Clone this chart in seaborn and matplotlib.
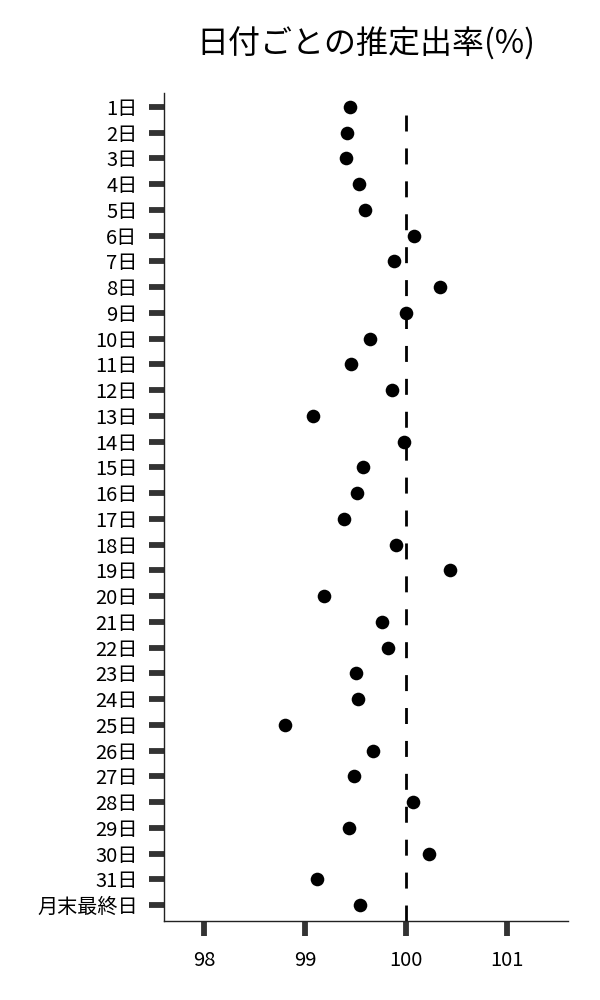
import numpy as np
import pandas as pd
import matplotlib
matplotlib.use('Agg')
import matplotlib.pyplot as plt
import seaborn as sns

sns.set_style('white')
plt.rcParams['font.family'] = ['Noto Sans CJK JP', 'DejaVu Sans']
plt.rcParams['text.color'] = 'black'
plt.rcParams['xtick.color'] = 'black'
plt.rcParams['ytick.color'] = 'black'

days = [f'{i}日' for i in range(1, 32)] + ['月末最終日']
rates = [99.44, 99.41, 99.40, 99.53, 99.59, 100.08, 99.88, 100.33, 100.00, 99.64,
         99.45, 99.86, 99.08, 99.98, 99.57, 99.51, 99.38, 99.90, 100.43, 99.18,
         99.76, 99.82, 99.50, 99.52, 98.80, 99.67, 99.48, 100.07, 99.43, 100.22,
         99.11, 99.54]
xticks = [98, 99, 100, 101]

df = pd.DataFrame({'day': days, 'rate': rates})

fig = plt.figure(figsize=(6, 10), dpi=100)
ax = fig.add_axes([0.2733, 0.079, 0.6734, 0.8283])

sns.stripplot(data=df, x='rate', y='day', order=days, jitter=False,
              color='black', size=9.8, ax=ax)
ax.axvline(100, ymax=0.986, color='black', lw=2, linestyle=(0, (5.75, 6.1)))

ax.set_xlim(97.6, 101.6)
ax.set_ylim(31.62, -0.55)
ax.set_xticks(xticks)
ax.set_xlabel('')
ax.set_ylabel('')
ax.set_title('日付ごとの推定出率(%)', fontsize=23, pad=28, color='black')

sns.despine(ax=ax)
for s in ['left', 'bottom']:
    ax.spines[s].set_color('#222222')
    ax.spines[s].set_linewidth(1.0)
ax.tick_params(axis='both', bottom=True, left=True, length=11, width=4.2,
               color='#333333', labelcolor='black', labelsize=14.5)
ax.tick_params(axis='y', pad=8)
ax.tick_params(axis='x', pad=10)

fig.savefig('out.png', dpi=100)
